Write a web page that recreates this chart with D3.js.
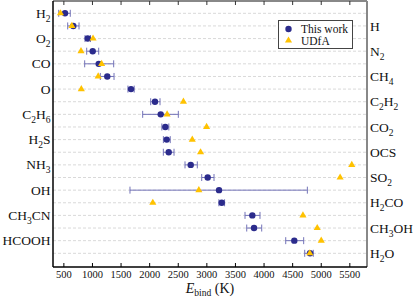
<!DOCTYPE html>
<html><head><meta charset="utf-8">
<script src="https://cdn.jsdelivr.net/npm/d3@7"></script>
<style>body{margin:0;background:#fff}svg{display:block}text{font-family:"Liberation Serif","DejaVu Serif",serif}</style>
</head><body><svg id="c" width="415" height="298"></svg>
<script>
const species = ["H2","H","O2","N2","CO","CH4","O","C2H2","C2H6","CO2","H2S","OCS","NH3","SO2","OH","H2CO","CH3CN","CH3OH","HCOOH","H2O"];
const thisWork = [520,665,917,1004,1109,1259,1674,2093,2193,2274,2298,2333,2718,3015,3213,3260,3795,3825,4529,4804];
const errLow  = [410,567,870,899,864,1137,1620,2018,1878,2213,2240,2239,2618,2910,1656,3210,3667,3697,4379,4711];
const errHigh = [612,765,965,1109,1371,1377,1730,2181,2501,2335,2360,2426,2833,3125,4757,3310,3929,3959,4693,4861];
const udfa = [440,640,1010,800,1160,1100,805,2590,2305,2995,2745,2890,5534,5330,2860,2055,4680,4930,5000,4800];
const xTicks = [500,1000,1500,2000,2500,3000,3500,4000,4500,5000,5500];
const legendLabels = ["This work","UDfA"];

const svg = d3.select("#c");
const L=53,R=367,T=1,B=267;
const x = d3.scaleLinear().domain([310,5800]).range([L,R]);
const y = d3.scalePoint().domain(species).range([13.3,253.3]);
const blue="#2b2b8c", errC="#7373b8", gold="#ffc200";

// grid lines
svg.append("g").selectAll("line").data(species).join("line")
  .attr("x1",L).attr("x2",R).attr("y1",d=>y(d)).attr("y2",d=>y(d))
  .attr("stroke","#d9d9d9").attr("stroke-width",1).attr("stroke-dasharray","3,2");

// frame
svg.append("line").attr("x1",L).attr("x2",R).attr("y1",T).attr("y2",T).attr("stroke","#888").attr("stroke-width",2);
svg.append("line").attr("x1",R).attr("x2",R).attr("y1",T).attr("y2",B).attr("stroke","#888").attr("stroke-width",2);
svg.append("line").attr("x1",L).attr("x2",L).attr("y1",T).attr("y2",B).attr("stroke","#000").attr("stroke-width",1.5);
svg.append("line").attr("x1",L).attr("x2",R).attr("y1",B).attr("y2",B).attr("stroke","#000").attr("stroke-width",1.5);

// ticks
const tg = svg.append("g");
tg.selectAll("line.b").data(xTicks).join("line").attr("class","b")
  .attr("x1",d=>x(d)).attr("x2",d=>x(d)).attr("y1",B).attr("y2",B-4).attr("stroke","#000");
tg.selectAll("line.t").data(xTicks).join("line").attr("class","t")
  .attr("x1",d=>x(d)).attr("x2",d=>x(d)).attr("y1",T).attr("y2",T+4).attr("stroke","#333");
tg.selectAll("text").data(xTicks).join("text")
  .attr("x",d=>x(d)).attr("y",278).attr("text-anchor","middle").attr("font-size",10.5).attr("fill","#111").text(d=>d);

// axis title
const at = svg.append("text").attr("x",210).attr("y",293).attr("text-anchor","middle").attr("font-size",14).attr("fill","#111");
at.append("tspan").attr("font-style","italic").text("E");
at.append("tspan").attr("font-size",9.5).attr("dy",2.5).text("bind");
at.append("tspan").attr("dy",-2.5).text(" (K)");

// species labels
function formula(sel, s){
  const parts = s.match(/[0-9]+|[^0-9]+/g);
  let sub=false;
  parts.forEach(p=>{
    const isNum=/^[0-9]+$/.test(p);
    const t = sel.append("tspan").text(p);
    if(isNum && !sub){t.attr("font-size",9.5).attr("dy",4);sub=true;}
    else if(!isNum && sub){t.attr("dy",-4);sub=false;}
  });
}
species.forEach((s,i)=>{
  const left = i%2===0;
  const t = svg.append("text").attr("x",left?50.5:370).attr("y",y(s)+4.6)
    .attr("text-anchor",left?"end":"start").attr("font-size",13.5).attr("fill","#111");
  formula(t,s);
});

// error bars
const eg = svg.append("g").attr("stroke",errC).attr("stroke-width",1);
species.forEach((s,i)=>{
  const yy=y(s);
  eg.append("line").attr("x1",x(errLow[i])).attr("x2",x(errHigh[i])).attr("y1",yy).attr("y2",yy);
  eg.append("line").attr("x1",x(errLow[i])).attr("x2",x(errLow[i])).attr("y1",yy-3.5).attr("y2",yy+3.5);
  eg.append("line").attr("x1",x(errHigh[i])).attr("x2",x(errHigh[i])).attr("y1",yy-3.5).attr("y2",yy+3.5);
});
// circles
svg.append("g").selectAll("circle").data(species).join("circle")
  .attr("cx",(d,i)=>x(thisWork[i])).attr("cy",d=>y(d)).attr("r",3.2).attr("fill",blue);
// triangles
const tri = d3.symbol().type(d3.symbolTriangle).size(22);
svg.append("g").selectAll("path").data(species).join("path")
  .attr("d",tri).attr("transform",(d,i)=>`translate(${x(udfa[i])},${y(d)})`).attr("fill",gold);

// legend
const lg = svg.append("g");
lg.append("rect").attr("x",278.5).attr("y",20.5).attr("width",74).attr("height",28)
  .attr("fill","#fff").attr("stroke","#444").attr("stroke-width",1);
lg.append("circle").attr("cx",288.5).attr("cy",29).attr("r",3.2).attr("fill",blue);
lg.append("path").attr("d",tri).attr("transform","translate(288.5,40.5)").attr("fill",gold);
lg.selectAll("text").data(legendLabels).join("text")
  .attr("x",301).attr("y",(d,i)=>33.2+i*11.3).attr("font-size",11.5).attr("fill","#111").text(d=>d);
</script></body></html>
